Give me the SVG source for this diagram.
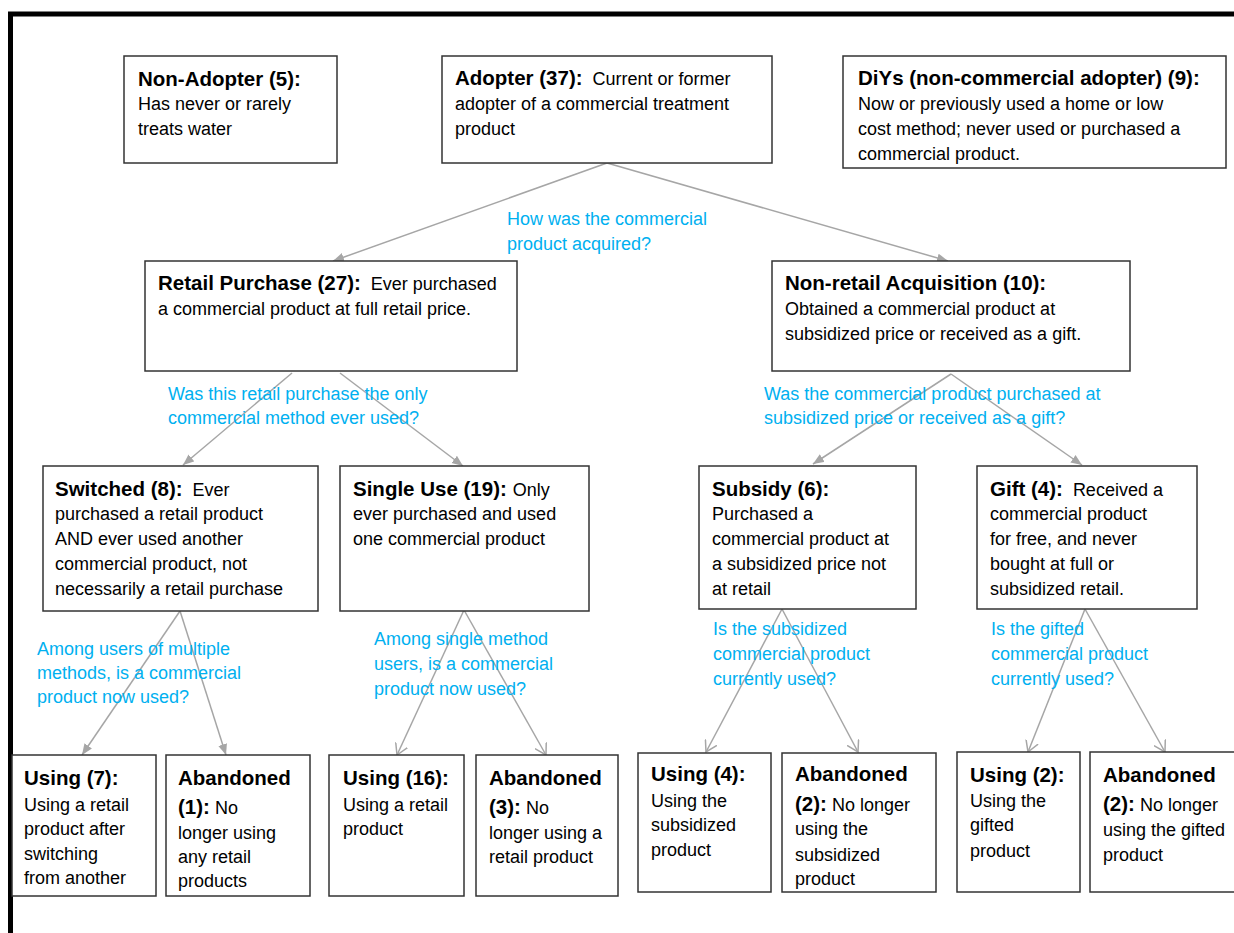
<svg xmlns="http://www.w3.org/2000/svg" width="1234" height="933" viewBox="0 0 1234 933">
<style>
.box{fill:#fff;stroke:#333;stroke-width:1.5}
text{font-family:"Liberation Sans",Arial,sans-serif;fill:#000}
.h{font-weight:bold;font-size:20.5px}
.b{font-size:18px}
.q{font-size:18px;fill:#00B0F0}
.c{stroke:#A6A6A6;stroke-width:1.5;fill:none}
.f{marker-end:url(#af)}
.o{marker-end:url(#ao)}
</style>
<defs>
<marker id="af" markerUnits="userSpaceOnUse" markerWidth="12" markerHeight="10" refX="11" refY="5" orient="auto">
<path d="M0,0.5 L11,5 L0,9.5 z" fill="#A6A6A6"/>
</marker>
<marker id="ao" markerUnits="userSpaceOnUse" markerWidth="13" markerHeight="14" refX="11" refY="7" orient="auto">
<path d="M0,0.5 L11,7 L0,13.5" fill="none" stroke="#A6A6A6" stroke-width="1.5"/>
</marker>
</defs>
<rect width="1234" height="933" fill="#fff"/>
<path d="M10.5,933 V14 H1234" fill="none" stroke="#000" stroke-width="5"/>

<g id="connectors">
<line class="c f" x1="607" y1="163" x2="333" y2="261"/>
<line class="c f" x1="607" y1="163" x2="948" y2="261"/>
<line class="c f" x1="292" y1="373" x2="183" y2="465"/>
<line class="c f" x1="340" y1="373" x2="463" y2="466"/>
<line class="c f" x1="951" y1="374" x2="813" y2="464"/>
<line class="c f" x1="951" y1="374" x2="1082" y2="465"/>
<line class="c f" x1="180" y1="611" x2="82" y2="755"/>
<line class="c f" x1="180" y1="611" x2="226" y2="755"/>
<line class="c o" x1="464" y1="610" x2="397" y2="755"/>
<line class="c o" x1="464" y1="610" x2="546" y2="755"/>
<line class="c o" x1="782" y1="609" x2="706" y2="752"/>
<line class="c o" x1="782" y1="609" x2="858" y2="752"/>
<line class="c o" x1="1085" y1="609" x2="1028" y2="752"/>
<line class="c o" x1="1085" y1="609" x2="1165" y2="752"/>
</g>

<g id="labels">
<text class="q" x="507" y="225">How was the commercial</text>
<text class="q" x="507" y="250">product acquired?</text>
<text class="q" x="168" y="400">Was this retail purchase the only</text>
<text class="q" x="168" y="424">commercial method ever used?</text>
<text class="q" x="764" y="400">Was the commercial product purchased at</text>
<text class="q" x="764" y="424">subsidized price or received as a gift?</text>
<text class="q" x="37" y="655">Among users of multiple</text>
<text class="q" x="37" y="679">methods, is a commercial</text>
<text class="q" x="37" y="703">product now used?</text>
<text class="q" x="374" y="645">Among single method</text>
<text class="q" x="374" y="670">users, is a commercial</text>
<text class="q" x="374" y="695">product now used?</text>
<text class="q" x="713" y="635">Is the subsidized</text>
<text class="q" x="713" y="660">commercial product</text>
<text class="q" x="713" y="685">currently used?</text>
<text class="q" x="991" y="635">Is the gifted</text>
<text class="q" x="991" y="660">commercial product</text>
<text class="q" x="991" y="685">currently used?</text>
</g>

<g id="non-adopter">
<rect class="box" x="124" y="56" width="213" height="107"/>
<text class="h" x="138" y="86">Non-Adopter (5):</text>
<text class="b" x="138" y="110">Has never or rarely</text>
<text class="b" x="138" y="135">treats water</text>
</g>

<g id="adopter">
<rect class="box" x="442" y="56" width="330" height="107"/>
<text x="455" y="85"><tspan class="h">Adopter (37):</tspan><tspan class="b" dx="10">Current or former</tspan></text>
<text class="b" x="455" y="110">adopter of a commercial treatment</text>
<text class="b" x="455" y="135">product</text>
</g>

<g id="diys">
<rect class="box" x="843" y="56" width="383" height="112"/>
<text class="h" x="858" y="85">DiYs (non-commercial adopter) (9):</text>
<text class="b" x="858" y="110">Now or previously used a home or low</text>
<text class="b" x="858" y="135">cost method; never used or purchased a</text>
<text class="b" x="858" y="160">commercial product.</text>
</g>

<g id="retail">
<rect class="box" x="145" y="261" width="372" height="110"/>
<text x="158" y="290"><tspan class="h">Retail Purchase (27):</tspan><tspan class="b" dx="10">Ever purchased</tspan></text>
<text class="b" x="158" y="315">a commercial product at full retail price.</text>
</g>

<g id="non-retail">
<rect class="box" x="772" y="261" width="358" height="110"/>
<text class="h" x="785" y="290">Non-retail Acquisition (10):</text>
<text class="b" x="785" y="315">Obtained a commercial product at</text>
<text class="b" x="785" y="340">subsidized price or received as a gift.</text>
</g>

<g id="switched">
<rect class="box" x="43" y="466" width="275" height="145"/>
<text x="55" y="496"><tspan class="h">Switched (8):</tspan><tspan class="b" dx="10">Ever</tspan></text>
<text class="b" x="55" y="520">purchased a retail product</text>
<text class="b" x="55" y="545">AND ever used another</text>
<text class="b" x="55" y="570">commercial product, not</text>
<text class="b" x="55" y="595">necessarily a retail purchase</text>
</g>

<g id="single-use">
<rect class="box" x="340" y="466" width="249" height="145"/>
<text x="353" y="496"><tspan class="h">Single Use (19):</tspan><tspan class="b" dx="6">Only</tspan></text>
<text class="b" x="353" y="520">ever purchased and used</text>
<text class="b" x="353" y="545">one commercial product</text>
</g>

<g id="subsidy">
<rect class="box" x="699" y="466" width="217" height="143"/>
<text class="h" x="712" y="496">Subsidy (6):</text>
<text class="b" x="712" y="520">Purchased a</text>
<text class="b" x="712" y="545">commercial product at</text>
<text class="b" x="712" y="570">a subsidized price not</text>
<text class="b" x="712" y="595">at retail</text>
</g>

<g id="gift">
<rect class="box" x="977" y="466" width="220" height="143"/>
<text x="990" y="496"><tspan class="h">Gift (4):</tspan><tspan class="b" dx="10">Received a</tspan></text>
<text class="b" x="990" y="520">commercial product</text>
<text class="b" x="990" y="545">for free, and never</text>
<text class="b" x="990" y="570">bought at full or</text>
<text class="b" x="990" y="595">subsidized retail.</text>
</g>

<g id="using-7">
<rect class="box" x="12" y="755" width="144" height="141"/>
<text class="h" x="24" y="785">Using (7):</text>
<text class="b" x="24" y="811">Using a retail</text>
<text class="b" x="24" y="835">product after</text>
<text class="b" x="24" y="860">switching</text>
<text class="b" x="24" y="884">from another</text>
</g>

<g id="abandoned-1">
<rect class="box" x="166" y="755" width="144" height="141"/>
<text class="h" x="178" y="785">Abandoned</text>
<text x="178" y="814"><tspan class="h">(1):</tspan><tspan class="b" dx="5">No</tspan></text>
<text class="b" x="178" y="839">longer using</text>
<text class="b" x="178" y="863">any retail</text>
<text class="b" x="178" y="887">products</text>
</g>

<g id="using-16">
<rect class="box" x="329" y="755" width="135" height="141"/>
<text class="h" x="343" y="785">Using (16):</text>
<text class="b" x="343" y="811">Using a retail</text>
<text class="b" x="343" y="835">product</text>
</g>

<g id="abandoned-3">
<rect class="box" x="476" y="755" width="142" height="141"/>
<text class="h" x="489" y="785">Abandoned</text>
<text x="489" y="814"><tspan class="h">(3):</tspan><tspan class="b" dx="5">No</tspan></text>
<text class="b" x="489" y="839">longer using a</text>
<text class="b" x="489" y="863">retail product</text>
</g>

<g id="using-4">
<rect class="box" x="638" y="753" width="133" height="139"/>
<text class="h" x="651" y="781">Using (4):</text>
<text class="b" x="651" y="807">Using the</text>
<text class="b" x="651" y="831">subsidized</text>
<text class="b" x="651" y="856">product</text>
</g>

<g id="abandoned-2-subsidy">
<rect class="box" x="782" y="753" width="154" height="139"/>
<text class="h" x="795" y="781">Abandoned</text>
<text x="795" y="811"><tspan class="h">(2):</tspan><tspan class="b" dx="5">No longer</tspan></text>
<text class="b" x="795" y="835">using the</text>
<text class="b" x="795" y="861">subsidized</text>
<text class="b" x="795" y="885">product</text>
</g>

<g id="using-2">
<rect class="box" x="957" y="752" width="123" height="140"/>
<text class="h" x="970" y="782">Using (2):</text>
<text class="b" x="970" y="807">Using the</text>
<text class="b" x="970" y="831">gifted</text>
<text class="b" x="970" y="857">product</text>
</g>

<g id="abandoned-2-gift">
<rect class="box" x="1090" y="752" width="150" height="140"/>
<text class="h" x="1103" y="782">Abandoned</text>
<text x="1103" y="811"><tspan class="h">(2):</tspan><tspan class="b" dx="5">No longer</tspan></text>
<text class="b" x="1103" y="836">using the gifted</text>
<text class="b" x="1103" y="861">product</text>
</g>
</svg>
